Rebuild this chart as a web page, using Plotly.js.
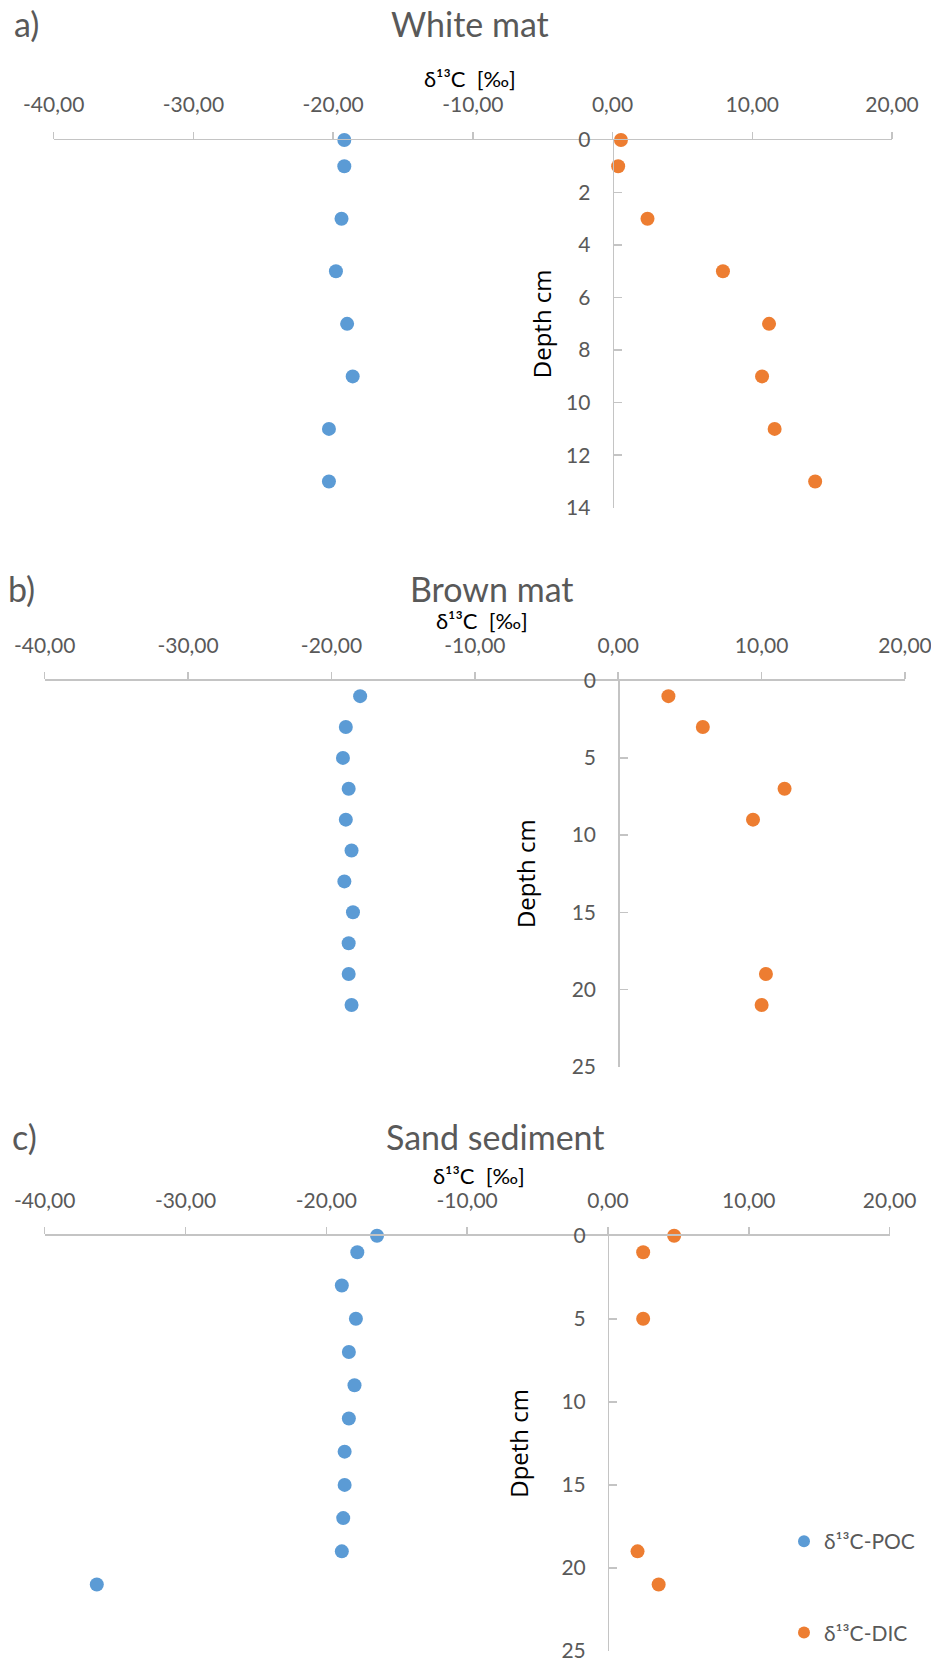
<!DOCTYPE html>
<html>
<head>
<meta charset="utf-8">
<script src="https://cdn.plot.ly/plotly-3.0.1.min.js"></script>
<style>html,body{margin:0;padding:0;background:#fff;}#chart{width:931px;height:1660px;}</style>
</head>
<body>
<div id="chart"></div>
<script>
// ---- Data ----
const xTickVals = [-40, -30, -20, -10, 0, 10, 20];
const xTickLabels = ["-40,00", "-30,00", "-20,00", "-10,00", "0,00", "10,00", "20,00"];

const panelTitles = ["White mat", "Brown mat", "Sand sediment"];
const panelLetters = ["a)", "b)", "c)"];
const depthTitles = ["Depth cm", "Depth cm", "Dpeth cm"];
const seriesNames = ["δ¹³C-POC", "δ¹³C-DIC"];
const xTitle = "δ¹³C  [‰]";

// a) White mat
const depthA = [0, 1, 3, 5, 7, 9, 11, 13];
const pocA = [-19.2, -19.2, -19.4, -19.8, -19.0, -18.6, -20.3, -20.3];
const dicA = [0.6, 0.4, 2.5, 7.9, 11.2, 10.7, 11.6, 14.5];

// b) Brown mat
const depthB_POC = [1, 3, 5, 7, 9, 11, 13, 15, 17, 19, 21];
const pocB = [-18.0, -19.0, -19.2, -18.8, -19.0, -18.6, -19.1, -18.5, -18.8, -18.8, -18.6];
const depthB_DIC = [1, 3, 7, 9, 19, 21];
const dicB = [3.5, 5.9, 11.6, 9.4, 10.3, 10.0];

// c) Sand sediment
const depthC_POC = [0, 1, 3, 5, 7, 9, 11, 13, 15, 17, 19, 21];
const pocC = [-16.4, -17.8, -18.9, -17.9, -18.4, -18.0, -18.4, -18.7, -18.7, -18.8, -18.9, -36.3];
const depthC_DIC = [0, 1, 5, 19, 21];
const dicC = [4.7, 2.5, 2.5, 2.1, 3.6];

// ---- Style ----
const BLUE = "#5B9BD5", ORANGE = "#ED7D31";
const GRAY_TXT = "#595959", AXIS = "#c4c4c4";
const W = 931, H = 1660;

function trace(x, y, color, name, ax, show) {
  return {
    type: "scatter", mode: "markers", x: x, y: y, name: name,
    xaxis: "x" + ax, yaxis: "y" + ax, cliponaxis: false,
    legendgroup: name, showlegend: show,
    marker: {color: color, size: 14, line: {width: 0}},
    hoverinfo: "x+y"
  };
}

const data = [
  trace(pocA, depthA, BLUE, seriesNames[0], "", false),
  trace(dicA, depthA, ORANGE, seriesNames[1], "", false),
  trace(pocB, depthB_POC, BLUE, seriesNames[0], "2", false),
  trace(dicB, depthB_DIC, ORANGE, seriesNames[1], "2", false),
  trace(pocC, depthC_POC, BLUE, seriesNames[0], "3", true),
  trace(dicC, depthC_DIC, ORANGE, seriesNames[1], "3", true)
];

// pixel geometry of each panel
const panels = [
  {x0: 53.7, x1: 892, top: 140, bot: 507.7, ymax: 14, dtick: 2, ystand: 6, tx: 470, ty: 23, lx: 12, ax: 470, ay: 78},
  {x0: 44.7, x1: 905, top: 680.7, bot: 1066.7, ymax: 25, dtick: 5, ystand: 27, tx: 492, ty: 588, lx: 6, ax: 482, ay: 620},
  {x0: 44.7, x1: 889.6, top: 1235.7, bot: 1651, ymax: 25, dtick: 5, ystand: 24, tx: 495, ty: 1136, lx: 10, ax: 479, ay: 1175}
];

const layout = {
  width: W, height: H,
  margin: {l: 0, r: 0, t: 0, b: 0},
  paper_bgcolor: "#fff", plot_bgcolor: "rgba(0,0,0,0)",
  font: {family: "Lato, 'Open Sans', sans-serif", color: GRAY_TXT},
  showlegend: true,
  legend: {
    x: 784 / W, y: 1 - 1521 / H, xanchor: "left", yanchor: "top",
    font: {family: "Lato, sans-serif", size: 21, color: GRAY_TXT},
    traceorder: "grouped", tracegroupgap: 61, itemsizing: "constant",
    bgcolor: "rgba(0,0,0,0)"
  },
  annotations: []
};

panels.forEach(function (p, i) {
  const sfx = i === 0 ? "" : String(i + 1);
  const zeroPx = p.x0 + (p.x1 - p.x0) * (40 / 60);
  layout["xaxis" + sfx] = {
    domain: [p.x0 / W, p.x1 / W], range: [-40, 20],
    anchor: "y" + sfx, side: "top",
    tickmode: "array", tickvals: xTickVals, ticktext: xTickLabels,
    ticks: "outside", ticklen: 7, tickwidth: 1.5, tickcolor: AXIS,
    showline: true, linecolor: AXIS, linewidth: 1.5,
    showgrid: false, zeroline: false, fixedrange: true,
    ticklabeloverflow: "allow",
    tickfont: {family: "Lato, sans-serif", size: 21, color: GRAY_TXT},
    ticklabelstandoff: 11
  };
  layout["yaxis" + sfx] = {
    domain: [1 - p.bot / H, 1 - p.top / H], range: [p.ymax, 0],
    anchor: "free", position: zeroPx / W, side: "left",
    tick0: 0, dtick: p.dtick,
    ticks: "inside", ticklen: 8, tickwidth: 1.5, tickcolor: AXIS,
    showline: true, linecolor: AXIS, linewidth: 1.5,
    showgrid: false, zeroline: false, fixedrange: true,
    ticklabeloverflow: "allow",
    tickfont: {family: "Lato, sans-serif", size: 21, color: GRAY_TXT},
    ticklabelstandoff: 18,
    title: {text: depthTitles[i], font: {family: "'Open Sans', sans-serif", size: 24, color: "#000"}, standoff: p.ystand}
  };
  // x-axis title (δ13C), placed as in the original, close above the tick labels
  layout.annotations.push({
    text: xTitle, xref: "paper", yref: "paper",
    x: p.ax / W, y: 1 - p.ay / H, xanchor: "center", yanchor: "middle",
    showarrow: false, font: {family: "Lato, sans-serif", size: 22, color: "#000"}
  });
  layout.annotations.push({
    text: panelTitles[i], xref: "paper", yref: "paper",
    x: p.tx / W, y: 1 - p.ty / H, xanchor: "center", yanchor: "middle",
    showarrow: false, font: {family: "Lato, sans-serif", size: 34, color: GRAY_TXT}
  });
  layout.annotations.push({
    text: panelLetters[i], xref: "paper", yref: "paper",
    x: p.lx / W, y: 1 - p.ty / H, xanchor: "left", yanchor: "middle",
    showarrow: false, font: {family: "Lato, sans-serif", size: 34, color: GRAY_TXT}
  });
});

Plotly.newPlot("chart", data, layout, {displayModeBar: false, staticPlot: true});
</script>
</body>
</html>
